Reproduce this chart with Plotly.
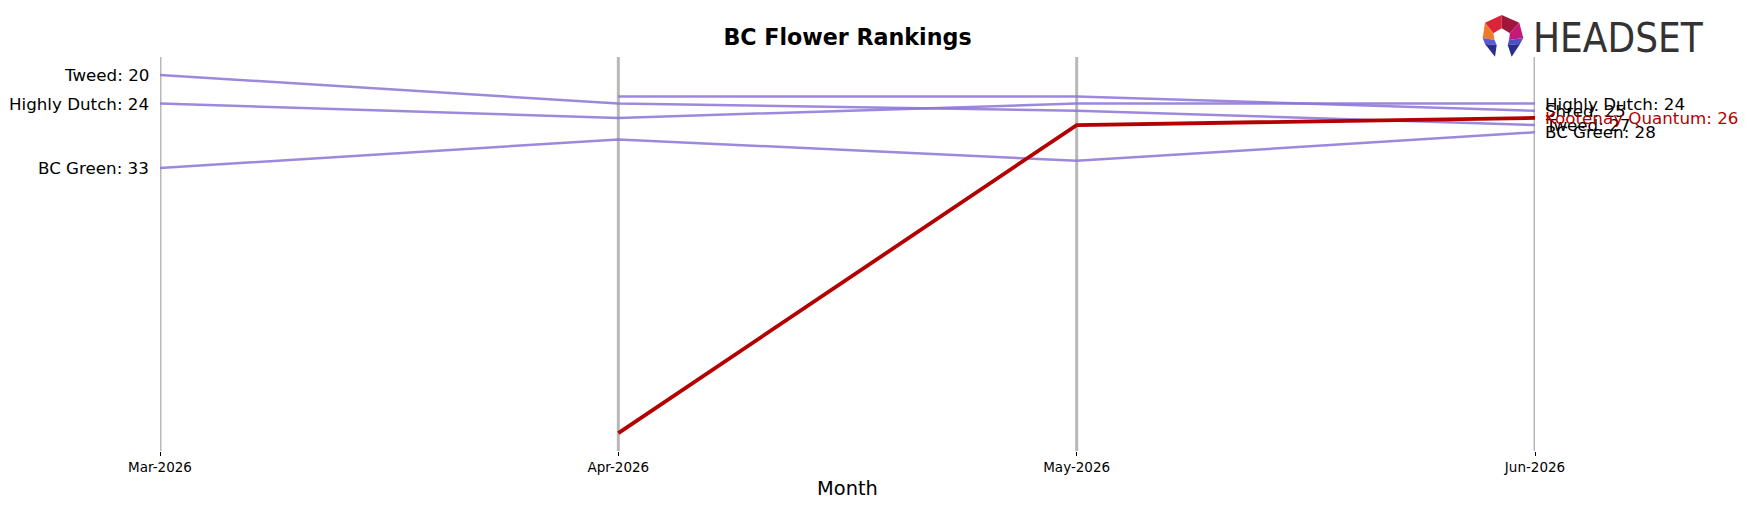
import plotly.graph_objects as go

# ---- data ----
months = ["Mar-2026", "Apr-2026", "May-2026", "Jun-2026"]
brands = ["Tweed", "Highly Dutch", "BC Green", "Shred", "Kootenay Quantum"]
tweed = [20, 24, 25, 27]
highly_dutch = [24, 26, 24, 24]
bc_green = [33, 29, 32, 28]
shred = [None, 23, 23, 25]
kootenay_quantum = [None, 70, 27, 26]
series = [tweed, highly_dutch, bc_green, shred, kootenay_quantum]
highlight = "Kootenay Quantum"
title_text = "BC Flower Rankings"
x_title = "Month"

# ---- style ----
W, H = 1747, 507
ML, MR, MT, MB = 160, 212, 57, 56
PW, PH = W - ML - MR, H - MT - MB
PURPLE = "rgba(140,115,215,0.85)"
RED = "#b40000"
FONT = "DejaVu Sans"


def px2paper(x, y):
    return (x - ML) / PW, (H - MB - y) / PH


fig = go.Figure()

# vertical axis lines at each month
shapes = []
for m in months:
    shapes.append(dict(type="line", xref="x", yref="paper", x0=m, x1=m, y0=0, y1=1,
                       line=dict(color="rgba(0,0,0,0.28)", width=3), layer="below"))

order = [b for b in brands if b != highlight] + [highlight]
for b in order:
    vals = series[brands.index(b)]
    hl = b == highlight
    fig.add_trace(go.Scatter(
        x=months, y=vals, mode="lines", name=b,
        line=dict(color=RED if hl else PURPLE, width=3.8 if hl else 2.5),
        connectgaps=False, showlegend=False, hoverinfo="skip"))

annotations = []
for b, vals in zip(brands, series):
    col = RED if b == highlight else "black"
    if vals[0] is not None:
        annotations.append(dict(x=months[0], y=vals[0], xref="x", yref="y",
                                text=f"{b}: {vals[0]}", showarrow=False,
                                xanchor="right", yanchor="middle", xshift=-9,
                                font=dict(family=FONT, size=16.7, color=col)))
    if vals[-1] is not None:
        annotations.append(dict(x=months[-1], y=vals[-1], xref="x", yref="y",
                                text=f"{b}: {vals[-1]}", showarrow=False,
                                xanchor="left", yanchor="middle", xshift=8,
                                font=dict(family=FONT, size=16.7, color=col)))

# HEADSET logo (text + icon)
lx, ly = px2paper(1531, 38)
annotations.append(dict(x=lx, y=ly, xref="paper", yref="paper", text="HEADSET",
                        showarrow=False, xanchor="left", yanchor="middle",
                        font=dict(family="Liberation Sans Narrow, DejaVu Sans Condensed, sans-serif",
                                  size=40, color="#333333")))

icon = [
    ([(1485, 22.7), (1501.7, 15), (1501.7, 28.3), (1493.3, 33.3)], "#dc2438"),
    ([(1501.7, 15), (1519.3, 22.7), (1510, 33.3), (1501.7, 28.3)], "#a0173c"),
    ([(1485, 22.7), (1493.3, 33.3), (1494.5, 40), (1482.7, 38)], "#f07a2c"),
    ([(1482.7, 38), (1494.5, 40), (1496.7, 45), (1485, 44)], "#5b5ad6"),
    ([(1485, 44), (1496.7, 45), (1495, 56.7)], "#2b2d8c"),
    ([(1519.3, 22.7), (1523.3, 38), (1509, 40), (1510, 33.3)], "#c2197a"),
    ([(1523.3, 38), (1520, 44), (1507.7, 45), (1509, 40)], "#4d4fc8"),
    ([(1520, 44), (1507.7, 45), (1511.7, 56.7)], "#2b2d8c"),
]
for pts, c in icon:
    pp = [px2paper(x, y) for x, y in pts]
    path = "M " + " L ".join(f"{a:.5f},{b:.5f}" for a, b in pp) + " Z"
    shapes.append(dict(type="path", xref="paper", yref="paper", path=path,
                       fillcolor=c, line=dict(width=0), layer="above"))

fig.update_layout(
    width=W, height=H,
    margin=dict(l=ML, r=MR, t=MT, b=MB, pad=0),
    paper_bgcolor="white", plot_bgcolor="white",
    title=dict(text=title_text, x=0.5, xref="paper", y=1 - 37.5 / H, yref="container",
               xanchor="center", yanchor="middle",
               font=dict(family=FONT, size=22.2, color="black", weight="bold")),
    xaxis=dict(type="category", categoryorder="array", categoryarray=months,
               range=[0, 3], showgrid=False, zeroline=False, showline=False,
               ticks="outside", ticklen=4, tickwidth=1, tickcolor="black",
               tickfont=dict(family=FONT, size=13.5, color="black"),
               title=dict(text=x_title, font=dict(family=FONT, size=19.4, color="black"),
                          standoff=7)),
    yaxis=dict(range=[72.5, 17.5], showgrid=False, zeroline=False, showline=False,
               showticklabels=False, ticks=""),
    shapes=shapes, annotations=annotations, showlegend=False,
)

fig.write_html("out.html")
